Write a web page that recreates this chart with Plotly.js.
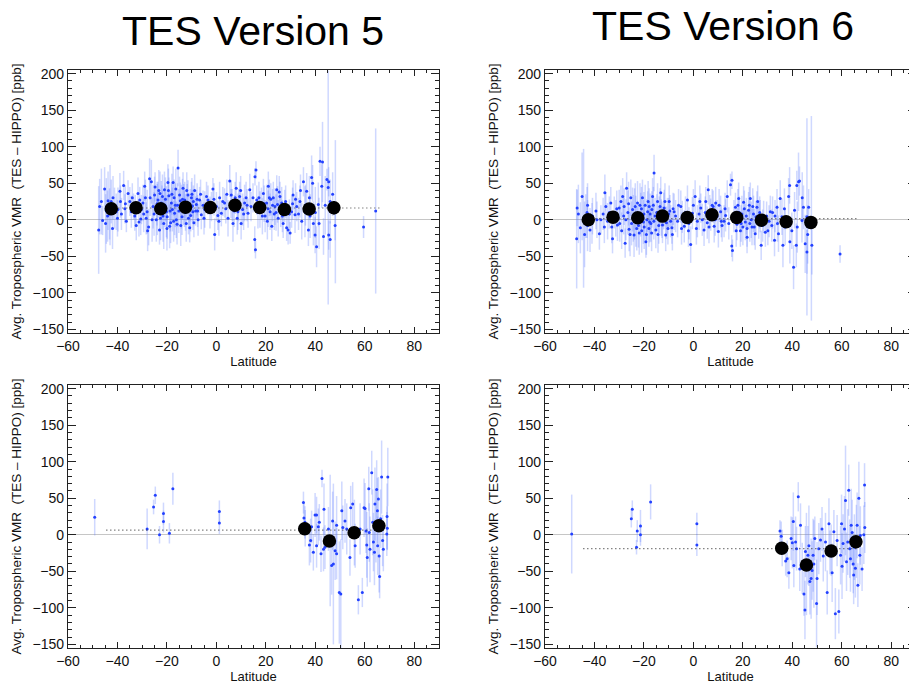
<!DOCTYPE html>
<html>
<head>
<meta charset="utf-8">
<script src="https://cdn.plot.ly/plotly-3.0.1.min.js"></script>
<style>
html,body{margin:0;padding:0;overflow:hidden;background:#fff;}
#chart{width:930px;height:700px;}
</style>
</head>
<body>
<div id="chart"></div>
<script>
// ---------- Panel titles / axis labels ----------
const panelTitles = ["TES Version 5", "TES Version 6"];
const xLabel = "Latitude";
const yLabel = "Avg. Tropospheric VMR\u00a0 (TES \u2013 HIPPO) [ppb]";

// ---------- Top-left (TES V5, upper) ----------
const tlLat = [-47.6,-47.2,-46.0,-45.2,-44.5,-43.8,-43.0,-42.5,-42.0,-41.2,
  -40.5,-39.8,-39.0,-38.4,-37.5,-36.4,-35.7,-35.0,-34.4,-33.5,
  -32.4,-31.7,-31.0,-30.3,-29.7,-29.0,-28.4,-28.0,-27.4,-27.0,
  -26.3,-25.6,-25.0,-24.3,-23.6,-23.0,-22.3,-21.6,-21.0,-20.2,
  -19.6,-18.9,-18.2,-17.5,-16.9,-16.2,-15.5,-14.9,-14.2,-13.5,
  -12.8,-12.2,-11.5,-10.8,-10.1,-9.5,-8.8,-8.1,-7.4,-6.8,
  -6.1,-4.7,-3.4,-1.4,-0.7,0.0,1.3,2.0,3.3,4.7,
  5.4,6.0,6.7,8.0,8.7,9.4,10.0,11.4,12.8,13.5,
  14.8,15.5,15.8,16.0,15.6,16.3,17.6,19.0,19.7,20.3,
  21.0,21.7,22.4,23.0,23.7,24.4,25.0,25.7,26.4,27.0,
  28.4,29.0,29.8,30.4,31.0,31.8,32.5,33.8,34.5,35.2,
  35.8,36.5,37.2,37.9,38.5,38.9,39.2,39.9,40.5,41.2,
  41.9,42.9,42.6,43.3,44.7,45.4,45.2,45.4,46.0,46.0,
  48.1,48.0,59.5,64.4,-26.8,-25.2,-24.8,-23.9,-22.8,-22.0,
  -21.3,-20.6,-19.9,-19.2,-18.5,-17.8,-17.1,-16.6,-15.9,-15.2,
  -14.6,-13.9,-13.2,-12.5,-11.8,-11.1,-10.4,-9.7,-9.1,-8.4,
  -7.8,-5.4,-2.6,0.6,3.8,5.9,7.2,9.0,10.6,12.0,
  14.0,18.2,20.9,22.0,23.4,24.7,26.0,27.6,30.8,33.2,
  -44.0,-41.8,-33.0,-30.6,-36.8,-46.5,-44.8,-43.2,-40.0,-38.8,
  -37.0,-34.0,-32.8,-31.3,-29.4,-28.7,-27.8,-26.0,-24.0,-23.3,
  -22.6,-21.8,-20.8,-20.0,-19.4,-18.7,-18.0,-17.3,-16.4,-15.7,
  -14.4,-13.7,-12.9,-12.0,-11.3,-10.6,-9.9,-9.3,-7.6,-6.4,
  -5.0,-4.0,-2.0,-1.0,1.0,2.6,4.2,6.4,7.6,8.4,
  9.8,11.0,12.4,16.8,17.2,18.6,19.3,20.6,21.4,22.7,
  24.1,25.4,26.7,28.0,29.5,32.0,34.0,36.0,37.6,40.0,
  41.5,44.0,47.0];
const tlVal = [-14,18,-1,42,12,26,20,25,-12,16,
  11,14,39,8,47,-2,36,25,11,18,
  -8,36,27,14,23,46,2,11,-10,56,
  52,18,34,0,27,-14,23,5,41,11,
  51,-9,23,51,9,0,71,34,18,43,
  27,-5,34,-11,30,11,40,21,0,27,
  7,14,27,42,-20,18,30,9,23,2,
  53,34,-5,43,11,32,-5,23,9,41,
  30,-27,-41,68,59,27,14,36,5,23,
  46,11,-9,30,18,41,2,32,23,-5,
  -11,-14,-18,11,34,7,18,25,-2,52,
  11,39,-14,5,58,50,-5,-21,-37,21,
  80,79,46,-23,55,52,44,-21,-27,25,
  11,-8,-10,12,30,8,45,14,36,17,
  -5,28,4,33,-4,14,30,20,-6,12,
  26,4,21,10,24,15,6,19,-4,12,
  28,20,10,6,15,22,12,20,14,30,
  18,22,15,28,8,21,12,19,22,8,
  5,30,5,1,22,25,-5,8,2,25,
  15,30,12,-3,8,30,-15,0,22,40,
  2,32,20,-12,40,12,35,-2,42,20,
  -8,28,15,40,2,20,35,25,12,35,
  2,32,18,28,-2,25,35,20,30,2,
  40,8,20,10,30,5,22,-2,30,20,
  10,38,5,25,8,28,40,20,30,10,
  -5,20,35];
const tlErr = [60,38,20,30,45,40,55,30,28,28,
  25,30,25,22,20,15,18,20,22,18,
  20,22,18,20,25,20,22,30,25,28,
  30,30,25,30,25,20,30,35,25,35,
  25,30,28,22,30,25,25,25,30,22,
  25,25,20,20,22,25,22,20,22,18,
  20,25,20,15,22,20,22,18,20,25,
  22,20,25,22,25,20,22,25,20,22,
  20,18,12,12,12,20,25,20,22,25,
  20,25,20,22,25,20,25,20,22,20,
  18,20,15,22,20,25,20,22,25,20,
  35,25,22,30,30,25,30,25,28,30,
  20,55,30,25,15,20,160,20,25,30,
  98,20,15,113,25,30,20,35,30,30,
  35,30,30,25,28,30,25,30,28,30,
  25,25,28,25,25,22,22,22,20,20,
  22,20,22,20,20,20,22,22,22,22,
  20,22,25,22,22,25,22,22,22,22,
  35,30,20,22,25,45,40,35,25,22,
  20,20,22,20,25,25,28,30,30,28,
  30,30,30,30,30,28,28,28,28,30,
  28,28,25,25,22,22,22,22,22,20,
  22,20,20,22,20,20,20,22,22,22,
  20,22,22,22,22,25,25,25,25,22,
  25,22,22,22,20,22,22,28,30,35,
  35,40,30];

// ---------- Top-right (TES V6, upper) ----------
const trLat = [-47.2,-47.0,-45.7,-45.0,-44.4,-42.8,-42.8,-41.8,-40.8,-39.4,
  -38.0,-37.4,-35.8,-35.4,-34.7,-33.4,-32.7,-31.4,-30.7,-30.0,
  -29.3,-28.6,-27.6,-27.0,-26.0,-25.3,-24.6,-24.0,-23.3,-22.6,
  -21.9,-21.3,-20.6,-19.9,-19.2,-18.5,-17.9,-17.2,-16.5,-15.9,
  -15.2,-14.5,-13.8,-13.2,-12.5,-11.8,-11.2,-10.5,-9.8,-8.7,
  -7.8,-6.4,-5.1,-3.7,-2.4,-1.1,-0.4,0.7,1.6,3.0,
  4.3,5.0,6.0,7.0,8.4,9.0,10.1,11.0,12.4,13.7,
  15.0,15.5,15.8,15.6,17.0,18.3,19.0,19.6,20.3,21.0,
  21.7,22.3,23.0,23.7,24.3,25.0,25.7,26.4,27.4,28.4,
  29.1,30.1,31.1,31.7,32.8,33.8,34.4,35.1,35.8,36.2,
  37.1,38.5,38.9,39.8,40.5,40.9,41.6,41.8,42.5,42.9,
  43.9,44.5,45.2,45.9,45.9,46.6,47.9,47.7,59.3,-26.5,
  -25.0,-23.8,-22.2,-21.0,-20.2,-19.5,-18.8,-18.0,-17.5,-16.8,
  -16.0,-14.8,-14.0,-13.0,-12.0,-10.9,-10.0,-9.2,-8.2,-4.5,
  -1.8,2.3,5.6,6.6,8.0,9.6,11.6,13.0,17.6,18.6,
  20.0,21.4,22.8,24.0,25.3,26.8,28.0,30.6,33.0,-43.5,
  -36.5,-32.0,-29.8,-28.2,-46.5,-44.0,-43.0,-41.0,-39.0,-36.0,
  -34.0,-33.0,-31.0,-29.0,-28.0,-27.3,-26.2,-25.6,-24.3,-23.5,
  -22.9,-21.6,-20.9,-20.0,-19.0,-18.3,-17.7,-16.9,-16.2,-15.5,
  -14.3,-13.5,-12.7,-11.5,-10.3,-9.5,-8.5,-7.2,-6.0,-4.8,
  -3.2,-2.0,0.0,1.2,2.6,3.6,4.8,6.3,7.6,8.8,
  10.4,11.3,12.8,14.3,16.4,17.3,18.0,19.3,20.6,21.7,
  22.6,23.4,24.6,26.0,27.0,29.6,32.0,34.0,36.8,39.0,
  42.0,44.0,46.2];
const trVal = [-26,16,-11,32,2,20,-8,-14,5,12,
  -19,0,37,18,-2,23,-26,2,-7,16,
  25,32,-32,43,-13,30,14,-21,-2,23,
  -18,7,30,-10,-30,11,18,-5,32,64,
  -14,25,7,37,-7,16,-21,5,25,-11,
  11,-2,18,-9,27,-34,9,32,-2,16,
  -14,25,41,7,-9,23,-16,11,-2,32,
  48,-36,-42,54,17,29,-15,8,24,-3,
  -24,13,29,-10,8,-19,17,-1,-35,4,
  -17,-15,11,-8,-28,17,-19,29,4,-35,
  -10,32,47,-15,-65,13,-35,47,52,53,
  -1,17,-33,4,-44,17,-35,2,-47,10,
  -5,8,-8,15,-3,20,0,-12,8,14,
  -2,10,-8,3,12,-4,8,-2,15,4,
  -5,8,-4,12,18,5,-8,6,-6,10,
  -10,5,-5,18,4,10,-8,-2,5,5,
  8,10,-5,5,8,-20,10,-5,0,-10,
  10,-10,15,-15,18,0,22,-20,2,18,
  -12,20,-15,8,-20,25,-3,-18,20,5,
  -20,18,0,25,-12,12,-20,5,20,-12,
  10,-15,20,-12,25,0,10,-10,20,0,
  20,-2,15,-5,5,-15,20,-5,15,-12,
  20,0,-10,25,5,5,10,-5,15,-30,
  -10,30,-20];
const trErr = [68,25,35,60,95,30,35,30,25,25,
  22,20,25,20,25,22,20,25,22,25,
  22,25,20,22,30,25,30,30,35,30,
  30,30,25,30,22,28,25,25,25,25,
  25,25,25,22,25,25,22,25,22,22,
  25,22,22,22,20,25,22,22,22,20,
  22,20,20,22,22,22,22,22,22,22,
  15,15,15,12,20,22,22,25,22,25,
  22,25,22,25,25,22,22,25,20,22,
  20,20,22,22,22,25,25,25,25,30,
  25,25,25,25,30,25,30,20,40,20,
  30,30,40,135,30,25,40,140,12,30,
  30,35,30,30,30,28,28,25,28,25,
  25,25,25,25,25,22,22,22,22,22,
  22,22,22,22,22,22,22,22,22,22,
  25,25,25,25,22,22,22,22,22,30,
  22,22,25,25,40,45,35,28,25,22,
  22,22,25,25,25,28,30,30,32,32,
  30,30,30,30,28,28,28,25,25,25,
  25,25,25,25,22,22,22,22,22,22,
  22,22,22,22,22,22,22,22,22,22,
  22,22,22,22,22,22,22,25,25,25,
  25,25,25,22,22,20,22,25,28,30,
  35,35,40];

// ---------- Bottom-left (TES V5, lower) ----------
const blLat = [-49.2,-28.0,-25.4,-24.7,-23.0,-21.4,-21.4,-19.0,-17.6,1.2,
  1.2,35.2,35.4,35.8,35.9,37.6,38.1,38.5,39.2,39.9,
  40.5,40.5,41.2,41.6,42.3,42.7,43.3,43.5,43.9,45.3,
  46.0,46.6,47.0,47.3,48.0,48.6,48.6,49.7,50.3,50.7,
  51.1,52.0,52.7,54.0,54.3,55.1,55.8,56.1,57.4,58.1,
  59.0,59.7,60.1,60.5,60.8,61.0,61.6,61.8,62.1,62.8,
  63.2,63.5,63.9,64.1,64.5,64.8,65.1,65.2,65.5,65.8,
  66.0,66.4,66.8,67.2,67.5,68.9,69.3,69.1,69.0];
const blVal = [24,8,38,54,0,29,18,2,63,32,
  16,44,23,17,9,-14,-8,11,-24,27,
  27,-15,11,17,-26,77,-20,35,-17,8,
  -8,-42,19,-40,-22,-26,13,-79,-81,33,
  10,19,8,-31,37,42,3,-15,-89,8,
  -79,37,36,5,-14,-31,63,3,-20,85,
  17,-10,-24,42,12,62,33,-15,49,-29,
  -57,22,79,-8,-20,1,79,9,25];
const blErr = [25,28,10,12,12,15,15,14,22,15,
  15,15,20,22,25,28,30,22,25,30,
  25,30,25,25,25,12,30,35,30,30,
  90,40,40,110,40,35,40,70,75,40,
  30,30,35,25,30,30,45,30,20,35,
  20,40,35,30,45,40,30,40,45,30,
  45,40,45,50,50,40,45,40,30,50,
  30,40,50,35,30,30,40,30,45];

// ---------- Bottom-right (TES V6, lower) ----------
const brLat = [-49.2,-25.1,-24.7,-23.0,-22.7,-21.4,-21.4,-17.3,1.4,1.4,
  35.0,35.5,35.9,37.3,37.9,38.6,39.5,40.0,40.4,40.6,
  41.3,41.7,42.4,43.0,43.3,44.0,44.7,45.1,45.3,45.7,
  46.3,46.7,47.1,47.6,48.0,48.4,48.7,49.1,49.8,50.0,
  50.7,51.4,52.0,52.5,53.4,54.1,54.8,55.2,55.7,56.1,
  56.8,57.4,58.1,58.8,59.5,59.9,60.1,60.5,61.1,61.5,
  61.9,62.4,62.8,63.2,63.5,63.8,64.2,64.6,64.8,65.1,
  65.5,65.9,66.2,66.5,66.9,67.3,67.5,68.2,68.9,69.2,69.3];
const brVal = [1,22,35,-17,5,12,0,45,15,-14,
  5,-2,-18,-36,-33,-52,-5,-11,18,-42,
  -10,-19,52,-47,13,-46,-81,-103,-23,-40,
  -28,-15,-64,-60,-49,-28,-40,-5,-94,-60,
  -19,-7,8,-29,-10,-79,15,-24,-21,-52,
  4,-108,-8,-105,-28,15,-43,-12,8,47,
  -37,-10,61,-19,-33,13,3,-40,-55,-17,
  -46,-9,13,-69,50,-28,-1,-47,0,68,10];
const brErr = [54,12,12,10,15,22,15,24,15,15,
  15,20,25,20,25,22,30,35,40,30,
  35,30,20,30,30,35,30,40,35,70,
  40,55,45,55,40,50,60,30,60,50,
  35,30,30,35,40,30,35,30,35,40,
  30,35,35,30,40,40,45,40,45,75,
  40,45,35,40,45,50,45,40,40,45,
  40,50,45,30,50,40,40,30,40,30,35];

// ---------- Binned means (black dots) ----------
const binLatUpper = [-42.5,-32.5,-22.5,-12.5,-2.5,7.5,17.5,27.5,37.5,47.5];
const tlMean = [15,16.4,15,17.3,16.9,20,16.9,14.1,14.6,16.4];
const tlMeanErr = [2,2,2,2,2,2,2,2,2,9];
const trMean = [0,3.6,2.7,5,3.2,6.8,3.2,-0.5,-2.7,-3.6];
const trMeanErr = [2,2,2,2,2,2,2,2,2,4];
const binLatLower = [35.7,45.7,55.7,65.7];
const blMean = [8.2,-8.6,2.7,12.3];
const blMeanErr = [3,3,3,3];
const brMean = [-18.6,-41.4,-22.3,-9.5];
const brMeanErr = [3,3,3,3];

// ---------- Overall mean (dotted line) ----------
const meanLineLat = [-44.5, 66.5];
const tlOverall = 16.2;
const trOverall = 1.5;
const blOverall = 6.4;
const brOverall = -19;

// ---------- Build ----------
const W = 930, H = 700;
const px = (a, b) => [a / W, b / W];
const py = (top, bot) => [1 - bot / H, 1 - top / H];

const blueDot = 'rgb(35,65,255)';
const blueBar = 'rgba(95,125,255,0.30)';

function panel(xa, ya, lat, val, err, bLat, bVal, bErr, overall) {
  return [
    {type:'scatter', mode:'markers', x:lat, y:val, xaxis:xa, yaxis:ya,
     marker:{size:3, color:blueDot},
     error_y:{type:'data', array:err, visible:true, color:blueBar, thickness:1.5, width:0},
     hoverinfo:'skip', showlegend:false},
    {type:'scatter', mode:'lines', x:meanLineLat, y:[overall, overall], xaxis:xa, yaxis:ya,
     line:{color:'#444', width:1.1, dash:'1px,3px'}, hoverinfo:'skip', showlegend:false},
    {type:'scatter', mode:'markers', x:bLat, y:bVal, xaxis:xa, yaxis:ya,
     marker:{size:13.5, color:'#000'},
     error_y:{type:'data', array:bErr, visible:true, color:'#000', thickness:2, width:0},
     hoverinfo:'skip', showlegend:false}
  ];
}

const data = [].concat(
  panel('x', 'y', tlLat, tlVal, tlErr, binLatUpper, tlMean, tlMeanErr, tlOverall),
  panel('x2', 'y2', trLat, trVal, trErr, binLatUpper, trMean, trMeanErr, trOverall),
  panel('x3', 'y3', blLat, blVal, blErr, binLatLower, blMean, blMeanErr, blOverall),
  panel('x4', 'y4', brLat, brVal, brErr, binLatLower, brMean, brMeanErr, brOverall)
);

const fam = 'Liberation Sans, Arial, Helvetica, sans-serif';
const axisFont = {family:fam, size:14, color:'#111'};
function xAxis(domain, anchor) {
  return {domain:domain, anchor:anchor, range:[-60,90], tick0:-60, dtick:20,
    ticks:'inside', ticklen:6, tickwidth:1, tickcolor:'#222',
    showline:true, linecolor:'#222', linewidth:1.2, mirror:'ticks',
    zeroline:false, showgrid:false,
    minor:{dtick:5, ticks:'inside', ticklen:3, tickwidth:1, tickcolor:'#222', showgrid:false},
    tickfont:axisFont,
    title:{text:xLabel, font:{family:fam, size:13, color:'#111'}, standoff:1},
    automargin:false, fixedrange:true};
}
function yAxis(domain, anchor) {
  return {domain:domain, anchor:anchor, range:[-155,205], tick0:0, dtick:50,
    ticks:'inside', ticklen:8, tickwidth:1, tickcolor:'#222',
    showline:true, linecolor:'#222', linewidth:1.2, mirror:'ticks',
    zeroline:true, zerolinecolor:'#c6c6c6', zerolinewidth:1.4,
    showgrid:false,
    minor:{dtick:10, ticks:'inside', ticklen:4, tickwidth:1, tickcolor:'#222', showgrid:false},
    tickfont:axisFont,
    title:{text:yLabel, font:{family:fam, size:13.5, color:'#111'}, standoff:7},
    automargin:false, fixedrange:true};
}

const dxL = px(68, 439), dxR = px(545, 916);
const dyT = py(70, 333), dyB = py(385, 648);

const layout = {
  width:W, height:H, margin:{l:0, r:0, t:0, b:0},
  paper_bgcolor:'#fff', plot_bgcolor:'#fff',
  showlegend:false,
  xaxis:xAxis(dxL, 'y'), yaxis:yAxis(dyT, 'x'),
  xaxis2:xAxis(dxR, 'y2'), yaxis2:yAxis(dyT, 'x2'),
  xaxis3:xAxis(dxL, 'y3'), yaxis3:yAxis(dyB, 'x3'),
  xaxis4:xAxis(dxR, 'y4'), yaxis4:yAxis(dyB, 'x4'),
  annotations:[
    {text:panelTitles[0], xref:'paper', yref:'paper', x:253/W, y:1-31/H, xanchor:'center', yanchor:'middle',
     showarrow:false, font:{family:fam, size:41, color:'#000'}},
    {text:panelTitles[1], xref:'paper', yref:'paper', x:723/W, y:1-26/H, xanchor:'center', yanchor:'middle',
     showarrow:false, font:{family:fam, size:41, color:'#000'}}
  ]
};

Plotly.newPlot('chart', data, layout, {staticPlot:true, displayModeBar:false});
</script>
</body>
</html>
